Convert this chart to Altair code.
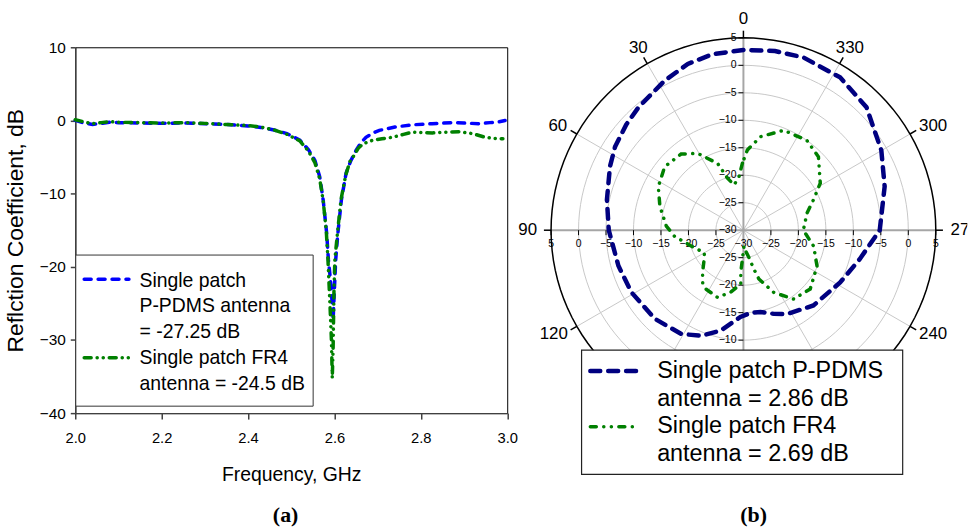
import altair as alt
import pandas as pd

FONT = "Liberation Sans"
SERIF = "Liberation Serif"

# ---------------- panel (a): reflection coefficient ----------------
freq_pdms = [2.00, 2.02, 2.04, 2.06, 2.08, 2.10, 2.15, 2.20, 2.25, 2.30, 2.35, 2.40,
             2.43, 2.46, 2.49, 2.52, 2.54, 2.555, 2.566, 2.574, 2.582, 2.586, 2.592, 2.597,
             2.600, 2.603, 2.608, 2.616, 2.627, 2.638, 2.650, 2.662, 2.673, 2.690, 2.704, 2.740,
             2.780, 2.826, 2.873, 2.900, 2.934, 2.960, 2.980, 2.995]
s11_pdms = [0.0, -0.35, -0.55, -0.4, -0.25, -0.3, -0.35, -0.4, -0.35, -0.45, -0.55, -0.75,
            -0.95, -1.3, -1.8, -2.7, -4.0, -5.5, -7.7, -10.9, -15.4, -19.0, -22.5, -27.2,
            -23.0, -19.0, -15.4, -10.9, -7.2, -5.5, -4.1, -3.0, -2.3, -1.7, -1.36, -0.9,
            -0.6, -0.45, -0.3, -0.35, -0.45, -0.3, -0.2, 0.0]

freq_fr4 = [2.00, 2.02, 2.04, 2.06, 2.08, 2.10, 2.15, 2.20, 2.25, 2.30, 2.35, 2.40,
            2.43, 2.46, 2.49, 2.52, 2.54, 2.555, 2.566, 2.574, 2.581, 2.585, 2.588, 2.591,
            2.593, 2.595, 2.597, 2.598, 2.599, 2.601, 2.607, 2.615, 2.626, 2.636, 2.643, 2.655,
            2.666, 2.689, 2.710, 2.735, 2.760, 2.780, 2.800, 2.827, 2.860, 2.888, 2.920, 2.949,
            2.970, 2.990]
s11_fr4 = [0.1, -0.2, -0.45, -0.3, -0.15, -0.25, -0.3, -0.35, -0.3, -0.4, -0.55, -0.7,
           -0.9, -1.3, -1.9, -2.8, -4.2, -5.8, -8.0, -11.0, -15.0, -19.0, -23.0, -27.0,
           -30.0, -35.2, -31.0, -27.0, -23.0, -19.0, -15.4, -10.9, -7.5, -5.6, -5.0, -3.8,
           -3.2, -2.7, -2.5, -2.3, -1.9, -1.6, -1.65, -1.7, -1.6, -1.55, -1.8, -2.3,
           -2.45, -2.5]

x_ticks_a = [2.0, 2.2, 2.4, 2.6, 2.8, 3.0]
y_ticks_a = [-40, -30, -20, -10, 0, 10]
legend_a = ["Single patch\nP-PDMS antenna\n= -27.25 dB", "Single patch FR4\nantenna = -24.5 dB"]

# ---------------- panel (b): radiation pattern ----------------
ang_pdms = [0, 10, 18.5, 27.8, 40.5, 48, 57, 64.5, 77.4, 90,
            105.9, 119, 135, 149, 158.2, 167.3, 178, 185, 191.8, 200,
            207.6, 222.9, 241.6, 256, 270, 287.2, 300.1, 315, 327.7, 340.8,
            350, 360]
gain_pdms = [2.8, 2.5, 1.9, 0.75, -0.6, -1.3, -2.15, -3.1, -4.55, -5.5,
             -6.35, -6.7, -7.2, -8.0, -9.3, -11.3, -14.2, -14.9, -14.8, -13.8,
             -12.8, -11.3, -10.0, -8.2, -5.2, -3.1, -1.0, 1.66, 2.9, 3.27,
             3.1, 2.8]

ang_fr4 = [0.85, 4.7, 11.6, 17, 21.1, 30.7, 39.3, 51.1, 62.9, 74.1,
           87, 95, 109.6, 120, 126.6, 136, 143, 147.6, 158.9, 168.5,
           177.2, 176.4, 178, 182, 186, 191.5, 195, 197.6, 206, 216.1,
           228.6, 244, 257.2, 270, 285.2, 293.5, 301.5, 314.4, 324.8, 338,
           349.6, 357.2, 360.85]
gain_fr4 = [-17.8, -20.2, -21.6, -20.1, -17.0, -13.75, -12.1, -11.6, -12.6, -14.2,
            -15.96, -17.4, -20.5, -21.8, -21.1, -19.3, -17.7, -17.3, -16.9, -18.5,
            -20.2, -22.3, -24.7, -27.1, -26.2, -24.9, -22.7, -20.7, -17.4, -14.5,
            -13.8, -15.1, -16.9, -19.1, -18.0, -16.1, -13.6, -10.9, -10.0, -10.4,
            -12.7, -15.4, -17.8]

center_level = -30
outer_level = 5
ring_levels = [-25, -20, -15, -10, -5, 0]
radial_tick_values = [5, 0, -5, -10, -15, -20, -25]
spoke_angles = [0, 30, 60, 90, 120, 150, 180, 210, 240, 270, 300, 330]
angle_labels = ["0", "30", "60", "90", "120", "150", "180", "210", "240", "270", "300", "330"]
legend_b = ["Single patch P-PDMS\nantenna = 2.86 dB", "Single patch FR4\nantenna = 2.69 dB"]

one = pd.DataFrame({"k": [0]})

# ================= panel (a) =================
W_A, H_A = 434.5, 368

x_a = alt.X("f:Q", scale=alt.Scale(domain=[2.0, 3.0], nice=False, zero=False),
            axis=alt.Axis(values=x_ticks_a, format=".1f", title="Frequency, GHz", grid=False,
                          domainColor="#404040", domainWidth=1.5, tickColor="#404040", tickWidth=1.5,
                          tickSize=6, labelFont=FONT, labelFontSize=14.8, labelColor="black",
                          labelPadding=12, labelFlush=False, titleFont=FONT, titleFontSize=19.5,
                          titleFontWeight="normal", titleColor="black", titlePadding=20))
y_a = alt.Y("s:Q", scale=alt.Scale(domain=[-40, 10], nice=False, zero=False),
            axis=alt.Axis(values=y_ticks_a, title="Reflction Coefficient, dB", grid=False,
                          domainColor="#404040", domainWidth=1.5, tickColor="#404040", tickWidth=1.5,
                          tickSize=5, labelFont=FONT, labelFontSize=15.5, labelColor="black",
                          labelPadding=5, labelFlush=False, titleFont=FONT, titleFontSize=23,
                          titleFontWeight="normal", titleColor="black", titlePadding=12))

BLUE_DASH = [7, 7]
GREEN_DASH = [7, 6, 0.1, 6, 0.1, 6]

blue_a = alt.Chart(pd.DataFrame({"f": freq_pdms, "s": s11_pdms})).mark_line(
    color="#0000FF", strokeWidth=3.5, strokeDash=BLUE_DASH, strokeCap="round").encode(x=x_a, y=y_a)
green_a = alt.Chart(pd.DataFrame({"f": freq_fr4, "s": s11_fr4})).mark_line(
    color="#008000", strokeWidth=3.5, strokeDash=GREEN_DASH, strokeCap="round").encode(x=x_a, y=y_a)

leg_a_box = alt.Chart(one).mark_rect(fill="white", stroke="#333333", strokeWidth=1).encode(
    x=alt.value(0.5), x2=alt.value(239.3), y=alt.value(209), y2=alt.value(361))
leg_a_sym1 = alt.Chart(one).mark_rule(color="#0000FF", strokeWidth=3.5, strokeDash=BLUE_DASH,
                                      strokeCap="round").encode(
    x=alt.value(9), x2=alt.value(54), y=alt.value(233.3))
leg_a_sym2 = alt.Chart(one).mark_rule(color="#008000", strokeWidth=3.5, strokeDash=GREEN_DASH,
                                      strokeCap="round").encode(
    x=alt.value(9), x2=alt.value(54), y=alt.value(312.3))
leg_a_txt1 = alt.Chart(one).mark_text(align="left", baseline="middle", font=FONT, fontSize=19.5,
                                      lineBreak="\n", lineHeight=26, color="black").encode(
    x=alt.value(64.6), y=alt.value(234.7), text=alt.value(legend_a[0]))
leg_a_txt2 = alt.Chart(one).mark_text(align="left", baseline="middle", font=FONT, fontSize=19.5,
                                      lineBreak="\n", lineHeight=26, color="black").encode(
    x=alt.value(64.6), y=alt.value(312.3), text=alt.value(legend_a[1]))
cap_a = alt.Chart(one).mark_text(font=SERIF, fontWeight="bold", fontSize=22, color="black",
                                 baseline="middle").encode(
    x=alt.value(211.6), y=alt.value(471), text=alt.value("(a)"))

panel_a = alt.layer(blue_a, green_a, leg_a_box, leg_a_sym1, leg_a_sym2, leg_a_txt1, leg_a_txt2,
                    cap_a).properties(width=W_A, height=H_A,
                                      view=alt.ViewBackground(stroke="black", strokeWidth=1))

# ================= panel (b) =================
K = 193.5 / 35.0            # pixels per dB on the polar radius
W_B = 418.7
XDOM = [-35.0, -35.0 + W_B / K]
YDOM = [-184.0 / K, 184.0 / K]


def xb(field):
    return alt.X(field, type="quantitative", scale=alt.Scale(domain=XDOM, nice=False, zero=False), axis=None)


def yb(field):
    return alt.Y(field, type="quantitative", scale=alt.Scale(domain=YDOM, nice=False, zero=False), axis=None)


R_OUT = outer_level - center_level


def polar_xy(chart, rexpr, aexpr="datum.a", px="px", py="py"):
    return chart.transform_calculate(
        **{px: f"-({rexpr})*sin(({aexpr})*PI/180)", py: f"({rexpr})*cos(({aexpr})*PI/180)"})


ring_rows = [{"lev": L, "a": a} for L in ring_levels + [outer_level] for a in range(0, 361, 3)]
df_ring = pd.DataFrame(ring_rows)

rings = polar_xy(alt.Chart(df_ring[df_ring.lev != outer_level]),
                 f"datum.lev - ({center_level})").mark_line(color="#c8c8c8", strokeWidth=1).encode(
    x=xb("px"), y=yb("py"), detail="lev:N", order="a:Q")
outer_ring = polar_xy(alt.Chart(df_ring[df_ring.lev == outer_level]),
                      f"datum.lev - ({center_level})").mark_line(color="black", strokeWidth=1.5).encode(
    x=xb("px"), y=yb("py"), order="a:Q")

df_sp = pd.DataFrame({"a": spoke_angles})
spokes_base = polar_xy(alt.Chart(df_sp).transform_calculate(ox="0", oy="0"), f"{R_OUT}", px="ex", py="ey")
spokes_minor = spokes_base.transform_filter("datum.a % 90 != 0").mark_rule(
    color="#c8c8c8", strokeWidth=1).encode(x=xb("ox"), y=yb("oy"), x2="ex:Q", y2="ey:Q")
spokes_main = spokes_base.transform_filter("datum.a % 90 == 0").mark_rule(
    color="#a6a6a6", strokeWidth=2).encode(x=xb("ox"), y=yb("oy"), x2="ex:Q", y2="ey:Q")

outer_ticks = polar_xy(polar_xy(alt.Chart(df_sp), f"{R_OUT}", px="sx", py="sy"),
                       f"{R_OUT + 1.3}", px="ex", py="ey").mark_rule(color="black", strokeWidth=1.5).encode(
    x=xb("sx"), y=yb("sy"), x2="ex:Q", y2="ey:Q")

tick_rows = [{"v": v, "side": s} for v in radial_tick_values for s in (-1, 1)]
df_tk = pd.DataFrame(tick_rows)
df_lab = pd.DataFrame(tick_rows + [{"v": center_level, "side": 0}])

v_ticks = alt.Chart(df_tk).transform_calculate(
    px="0", py=f"datum.side*(datum.v - ({center_level}))").mark_rule(
    color="black", strokeWidth=1, xOffset=-5, x2Offset=0).encode(
    x=xb("px"), x2="px:Q", y=yb("py"))
h_ticks = alt.Chart(df_tk).transform_calculate(
    py="0", px=f"datum.side*(datum.v - ({center_level}))").mark_rule(
    color="black", strokeWidth=1, yOffset=0, y2Offset=5).encode(
    y=yb("py"), y2="py:Q", x=xb("px"))

v_labels = alt.Chart(df_lab).transform_calculate(
    px="0", py=f"datum.side*(datum.v - ({center_level}))").mark_text(
    align="right", baseline="middle", dx=-7, font=FONT, fontSize=10.5, color="black").encode(
    x=xb("px"), y=yb("py"), text=alt.Text("v:Q", format="d"))
h_labels = alt.Chart(df_lab).transform_calculate(
    py="0", px=f"datum.side*(datum.v - ({center_level}))").mark_text(
    align="center", baseline="middle", dy=14, font=FONT, fontSize=10.5, color="black").encode(
    x=xb("px"), y=yb("py"), text=alt.Text("v:Q", format="d"))

R_LAB = 206.0 / K
HW = 5.5 / K
HH = 6.0 / K
df_al = pd.DataFrame({"a": spoke_angles, "t": angle_labels})
ang_base = alt.Chart(df_al).transform_calculate(
    px=f"-({R_LAB} + length(datum.t)*{HW}*abs(sin(datum.a*PI/180)))*sin(datum.a*PI/180)",
    py=f"({R_LAB} + {HH}*abs(cos(datum.a*PI/180)))*cos(datum.a*PI/180)")
ang_labels = ang_base.transform_filter("datum.a != 270").mark_text(
    align="center", baseline="middle", font=FONT, fontSize=17, color="black").encode(
    x=xb("px"), y=yb("py"), text="t:N")
ang_labels_clip = ang_base.transform_filter("datum.a == 270").mark_text(
    align="center", baseline="middle", font=FONT, fontSize=17, color="black", clip=True).encode(
    x=xb("px"), y=yb("py"), text="t:N")

df_bp = pd.DataFrame({"a": ang_pdms, "g": gain_pdms, "i": list(range(len(ang_pdms)))})
df_bf = pd.DataFrame({"a": ang_fr4, "g": gain_fr4, "i": list(range(len(ang_fr4)))})
blue_b = polar_xy(alt.Chart(df_bp), f"datum.g - ({center_level})").mark_line(
    color="#000080", strokeWidth=4.5, strokeDash=[10, 8], strokeCap="round").encode(
    x=xb("px"), y=yb("py"), order="i:Q")
green_b = polar_xy(alt.Chart(df_bf), f"datum.g - ({center_level})").mark_line(
    color="#008000", strokeWidth=3.5, strokeDash=[6, 7.5, 0.1, 7.5, 0.1, 7.5], strokeCap="round").encode(
    x=xb("px"), y=yb("py"), order="i:Q")

leg_b_box = alt.Chart(one).mark_rect(fill="white", stroke="#222222", strokeWidth=1.2).encode(
    x=alt.value(30.7), x2=alt.value(353.7), y=alt.value(304.7), y2=alt.value(429.7))
leg_b_sym1 = alt.Chart(one).mark_rule(color="#000080", strokeWidth=4.5, strokeDash=[10, 8],
                                      strokeCap="round").encode(
    x=alt.value(39.5), x2=alt.value(88), y=alt.value(325.7))
leg_b_sym2 = alt.Chart(one).mark_rule(color="#008000", strokeWidth=3.5,
                                      strokeDash=[6, 7.5, 0.1, 7.5, 0.1, 7.5], strokeCap="round").encode(
    x=alt.value(39.5), x2=alt.value(88), y=alt.value(381.7))
leg_b_txt1 = alt.Chart(one).mark_text(align="left", baseline="middle", font=FONT, fontSize=23.5,
                                      lineBreak="\n", lineHeight=28.3, color="black").encode(
    x=alt.value(106.7), y=alt.value(325.7), text=alt.value(legend_b[0]))
leg_b_txt2 = alt.Chart(one).mark_text(align="left", baseline="middle", font=FONT, fontSize=23.5,
                                      lineBreak="\n", lineHeight=28.3, color="black").encode(
    x=alt.value(106.7), y=alt.value(380.7), text=alt.value(legend_b[1]))
cap_b = alt.Chart(one).mark_text(font=SERIF, fontWeight="bold", fontSize=22, color="black",
                                 baseline="middle").encode(
    x=alt.value(203.7), y=alt.value(471), text=alt.value("(b)"))

panel_b = alt.layer(rings, spokes_minor, spokes_main, outer_ring, outer_ticks, v_ticks, h_ticks,
                    v_labels, h_labels, ang_labels, ang_labels_clip, blue_b, green_b,
                    leg_b_box, leg_b_sym1, leg_b_sym2, leg_b_txt1, leg_b_txt2, cap_b).properties(
    width=W_B, height=H_A, view=alt.ViewBackground(stroke="transparent"))

chart = alt.hconcat(panel_a, panel_b, spacing=43.6).properties(
    bounds="flush",
    padding={"left": 3.7, "top": 8, "right": 0, "bottom": 0},
    background="white")

chart.save("out.html", embed_options={"renderer": "svg", "actions": False})
